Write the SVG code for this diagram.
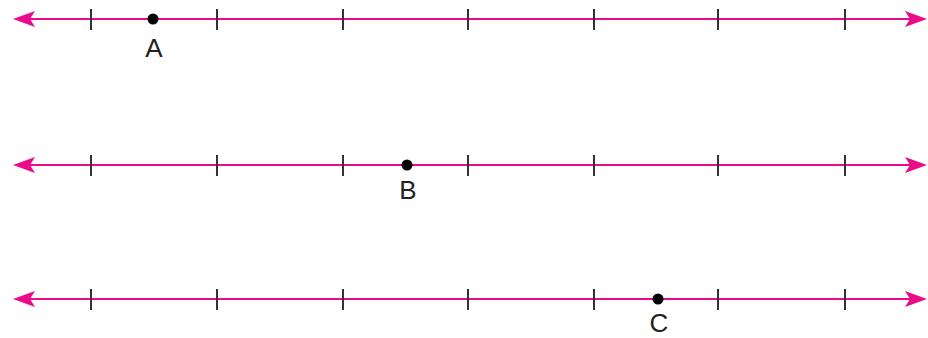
<svg xmlns="http://www.w3.org/2000/svg" width="928" height="338" viewBox="0 0 928 338">
<style>
.axis{stroke:#ea0a8a;stroke-width:2;fill:none}
.head{fill:#ea0a8a}
.tick{stroke:#333;stroke-width:2}
.pt{fill:#000}
.lbl{font-family:"Liberation Sans",Arial,sans-serif;font-size:26px;fill:#222;text-anchor:middle}
</style>
<defs>
<path id="lh" class="head" d="M0,0 L22,-8 L17,0 L22,8 Z"/>
<path id="rh" class="head" d="M0,0 L-22,-8 L-17,0 L-22,8 Z"/>
<g id="ticks">
<line class="tick" x1="91" y1="-10" x2="91" y2="11"/>
<line class="tick" x1="217" y1="-10" x2="217" y2="11"/>
<line class="tick" x1="343" y1="-10" x2="343" y2="11"/>
<line class="tick" x1="468" y1="-10" x2="468" y2="11"/>
<line class="tick" x1="594" y1="-10" x2="594" y2="11"/>
<line class="tick" x1="718" y1="-10" x2="718" y2="11"/>
<line class="tick" x1="845" y1="-10" x2="845" y2="11"/>
</g>
</defs>
<g id="line1" transform="translate(0,19)">
<line class="axis" x1="20" y1="0" x2="920" y2="0"/>
<use href="#lh" x="13" y="0"/>
<use href="#rh" x="927" y="0"/>
<use href="#ticks"/>
</g>
<g id="line2" transform="translate(0,165)">
<line class="axis" x1="20" y1="0" x2="920" y2="0"/>
<use href="#lh" x="13" y="0"/>
<use href="#rh" x="927" y="0"/>
<use href="#ticks"/>
</g>
<g id="line3" transform="translate(0,299)">
<line class="axis" x1="20" y1="0" x2="920" y2="0"/>
<use href="#lh" x="13" y="0"/>
<use href="#rh" x="927" y="0"/>
<use href="#ticks"/>
</g>
<g id="pointA"><circle class="pt" cx="153" cy="19" r="5.5"/><text class="lbl" x="154" y="57">A</text></g>
<g id="pointB"><circle class="pt" cx="407" cy="165" r="5.5"/><text class="lbl" x="408" y="199">B</text></g>
<g id="pointC"><circle class="pt" cx="658" cy="299" r="5.5"/><text class="lbl" x="659" y="332">C</text></g>
</svg>
